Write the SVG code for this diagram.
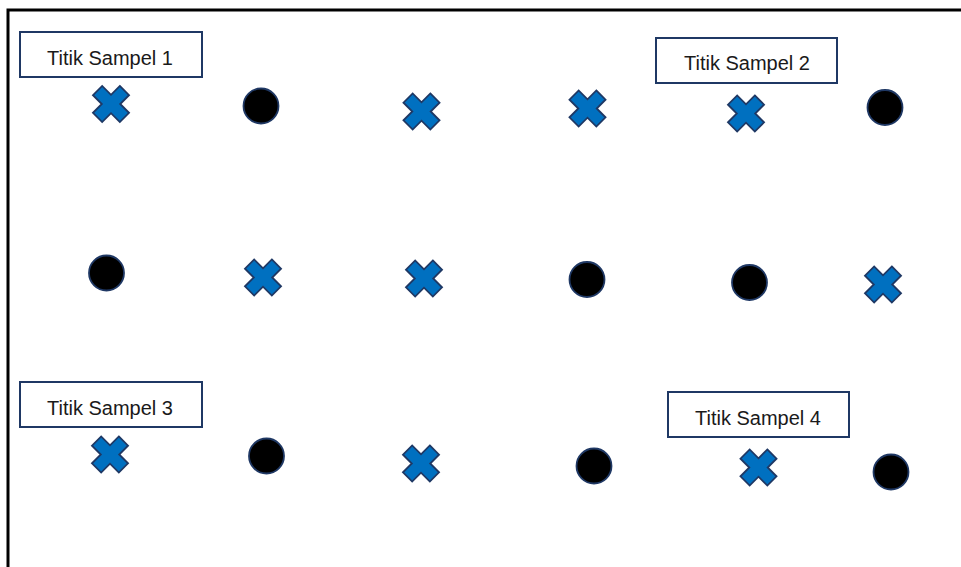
<svg xmlns="http://www.w3.org/2000/svg" xmlns:xlink="http://www.w3.org/1999/xlink" width="961" height="567" viewBox="0 0 961 567">
<style>
.frame{fill:none;stroke:#000;stroke-width:3}
.box{fill:#fff;stroke:#1F3864;stroke-width:2}
.lbl{font-family:"Liberation Sans",Arial,sans-serif;font-size:20px;fill:#1a1a1a;text-anchor:middle}
.dot{fill:#000;stroke:#1F3864;stroke-width:1.8}
.cross{fill:#0070C0;stroke:#1F3864;stroke-width:1.8;stroke-linejoin:miter}
</style>
<defs>
<polygon id="xm" class="cross" transform="rotate(45)" points="-6.5,-19 6.5,-19 6.5,-6.5 19,-6.5 19,6.5 6.5,6.5 6.5,19 -6.5,19 -6.5,6.5 -19,6.5 -19,-6.5 -6.5,-6.5"/>
</defs>
<rect width="961" height="567" fill="#fff"/>
<path class="frame" d="M8,567 V10 H961"/>
<g id="label1"><rect class="box" x="20" y="32" width="182" height="45"/><text class="lbl" x="110" y="65">Titik Sampel 1</text></g>
<g id="label2"><rect class="box" x="656" y="38" width="181" height="45"/><text class="lbl" x="747" y="70">Titik Sampel 2</text></g>
<g id="label3"><rect class="box" x="20" y="382" width="182" height="45"/><text class="lbl" x="110" y="415">Titik Sampel 3</text></g>
<g id="label4"><rect class="box" x="668" y="392" width="181" height="45"/><text class="lbl" x="758" y="425">Titik Sampel 4</text></g>
<g id="row1">
<use xlink:href="#xm" transform="translate(111,104)"/>
<circle class="dot" cx="261" cy="106" r="17.5"/>
<use xlink:href="#xm" transform="translate(421.5,111.5)"/>
<use xlink:href="#xm" transform="translate(587.5,108.5)"/>
<use xlink:href="#xm" transform="translate(746,113.5)"/>
<circle class="dot" cx="885" cy="107.5" r="17.5"/>
</g>
<g id="row2">
<circle class="dot" cx="106.5" cy="273" r="17.5"/>
<use xlink:href="#xm" transform="translate(263,277.5)"/>
<use xlink:href="#xm" transform="translate(424,278.5)"/>
<circle class="dot" cx="587" cy="279.5" r="17.5"/>
<circle class="dot" cx="749.5" cy="282.5" r="17.5"/>
<use xlink:href="#xm" transform="translate(883,284.5)"/>
</g>
<g id="row3">
<use xlink:href="#xm" transform="translate(110,454.5)"/>
<circle class="dot" cx="266.5" cy="456" r="17.5"/>
<use xlink:href="#xm" transform="translate(421,463.5)"/>
<circle class="dot" cx="594" cy="466" r="17.5"/>
<use xlink:href="#xm" transform="translate(758.5,467.5)"/>
<circle class="dot" cx="891" cy="472" r="17.5"/>
</g>
</svg>
